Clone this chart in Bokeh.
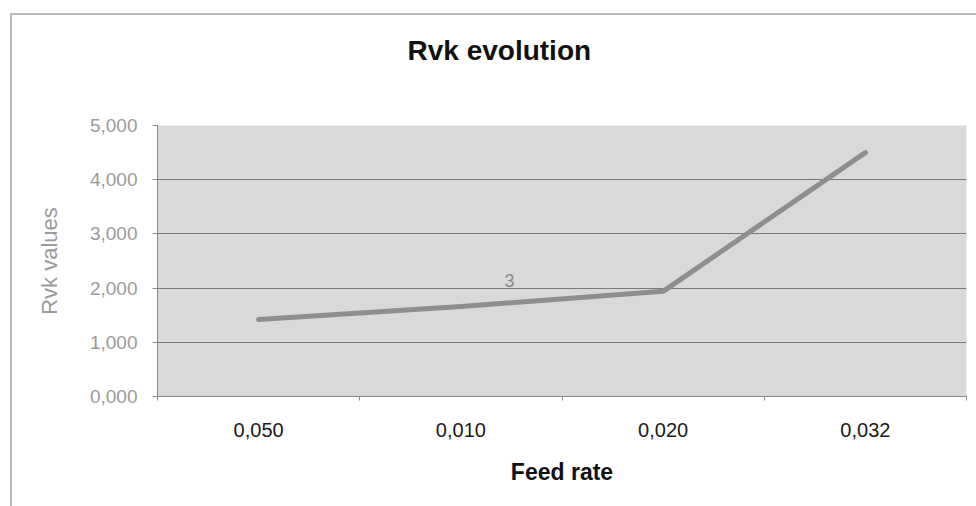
from bokeh.plotting import figure
from bokeh.models import Range1d, FixedTicker, Label, Title
from bokeh.embed import file_html
from bokeh.resources import INLINE

# ---- data ----
feed_rates = ["0,050", "0,010", "0,020", "0,032"]
rvk_values = [1.42, 1.66, 1.94, 4.50]
y_ticks = [0, 1, 2, 3, 4, 5]
y_tick_labels = ["0,000", "1,000", "2,000", "3,000", "4,000", "5,000"]
chart_title = "Rvk evolution"
stray_label = "3"

xs = [i + 0.5 for i in range(len(feed_rates))]

p = figure(width=976, height=506, output_backend="svg", toolbar_location=None,
           x_range=Range1d(0, len(feed_rates)), y_range=Range1d(0, 5),
           min_border_left=157, min_border_right=10, min_border_top=125, min_border_bottom=110)

p.background_fill_color = "#d9d9d9"
p.border_fill_color = None
p.outline_line_color = None
p.styles = {
    "background-color": "white",
    "background-image": "linear-gradient(#b8b8b8, #b8b8b8), linear-gradient(#b8b8b8, #b8b8b8)",
    "background-size": "2px 100%, 100% 2px",
    "background-position": "10px 13px, 10px 13px",
    "background-repeat": "no-repeat",
}

# title
t = Title(text=chart_title + "\n ", align="left", offset=250,
          text_font="Liberation Sans", text_font_size="28px", text_font_style="bold",
          text_color="#111111", standoff=58)
p.add_layout(t, "above")

# line
p.line(xs, rvk_values, line_width=5, line_color="#8e8e8e", line_cap="round", line_join="round")

# stray label
p.add_layout(Label(x=1.74, y=2.14, text=stray_label, text_align="center", text_baseline="middle",
                   text_font="Liberation Sans", text_font_size="18px", text_color="#8a8a8a"))

# x axis
xa = p.xaxis[0]
xa.ticker = FixedTicker(ticks=xs, minor_ticks=list(range(len(feed_rates) + 1)))
xa.major_label_overrides = {x: lab for x, lab in zip(xs, feed_rates)}
xa.major_tick_out = 0
xa.major_tick_in = 0
xa.minor_tick_out = 4
xa.minor_tick_in = 0
xa.minor_tick_line_color = "#888888"
xa.axis_line_color = "#888888"
xa.major_label_text_font = "Liberation Sans"
xa.major_label_text_font_size = "20px"
xa.major_label_text_color = "#1a1a1a"
xa.major_label_standoff = 22
xa.axis_label = "Feed rate"
xa.axis_label_text_font = "Liberation Sans"
xa.axis_label_text_font_size = "23px"
xa.axis_label_text_font_style = "bold"
xa.axis_label_text_color = "#111111"
xa.axis_label_standoff = 19

# y axis
ya = p.yaxis[0]
ya.ticker = FixedTicker(ticks=y_ticks)
ya.major_label_overrides = {v: lab for v, lab in zip(y_ticks, y_tick_labels)}
ya.major_tick_out = 5
ya.major_tick_in = 0
ya.major_tick_line_color = "#888888"
ya.minor_tick_out = 0
ya.minor_tick_in = 0
ya.axis_line_color = "#888888"
ya.major_label_text_font = "Liberation Sans"
ya.major_label_text_font_size = "19px"
ya.major_label_text_color = "#9a9a9a"
ya.major_label_standoff = 15
ya.axis_label = "Rvk values"
ya.axis_label_text_font = "Liberation Sans"
ya.axis_label_text_font_size = "22px"
ya.axis_label_text_font_style = "normal"
ya.axis_label_text_color = "#9a9a9a"
ya.axis_label_standoff = 25

p.xgrid.visible = False
p.ygrid.ticker = FixedTicker(ticks=y_ticks)
p.ygrid.grid_line_color = "#7a7a7a"
p.ygrid.grid_line_width = 1

open("out.html", "w").write(file_html(p, INLINE))
